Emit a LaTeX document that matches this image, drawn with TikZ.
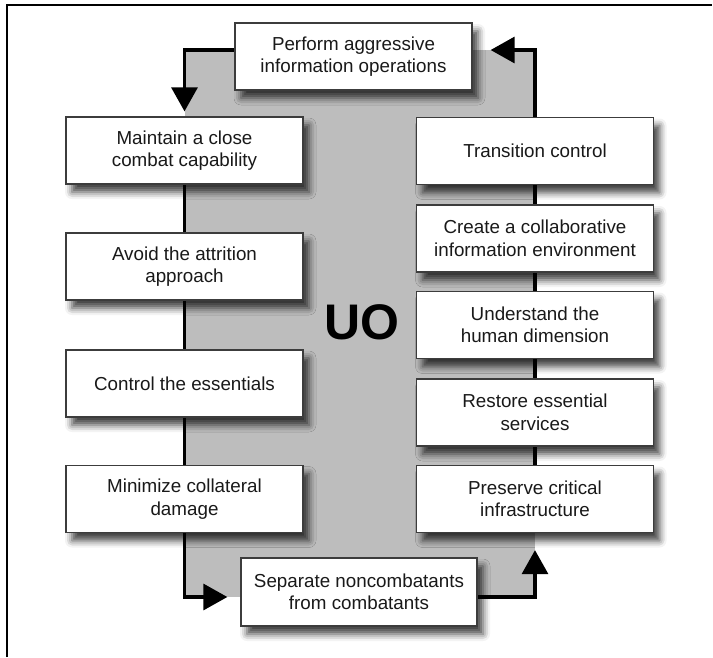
\documentclass[tikz,border=0pt]{standalone}
\usepackage{fontspec}
\setmainfont{Liberation Sans}
\usetikzlibrary{arrows.meta,shadows.blur}
\pgfdeclarelayer{back}
\pgfdeclarelayer{mid}
\pgfsetlayers{back,mid,main}
\definecolor{loopgray}{RGB}{189,189,189}
\definecolor{txt}{RGB}{25,25,25}
\definecolor{edge}{RGB}{60,60,60}
\begin{document}
\begin{tikzpicture}[x=1pt,y=-1pt,
  box/.style={draw=edge, line width=1.3pt, fill=white, minimum width=237pt,
    minimum height=67pt, align=center, inner sep=0pt, text=txt,
    font=\fontsize{18.8}{22.5}\selectfont,
    blur shadow={shadow xshift=6pt, shadow yshift=-8pt, shadow blur radius=7pt, shadow opacity=75}},
  loopline/.style={line width=3.2pt, black, line join=miter},
  looptip/.style={-{Triangle[length=24pt,width=26pt]}},
  frameline/.style={line width=2.5pt, black}
]
\useasboundingbox (0,0) rectangle (713,657);
% frame
\draw[frameline] (7,657) -- (7,5) -- (712,5);

% boxes
\node[box] (top) at (353.5,56.5) {Perform aggressive\\information operations};
\node[box] (maintain) at (184.5,150.5) {Maintain a close\\combat capability};
\node[box] (avoid) at (184.5,266.5) {Avoid the attrition\\approach};
\node[box] (control) at (184.5,383.5) {Control the essentials};
\node[box] (minimize) at (184.5,499) {Minimize collateral\\damage};
\node[box] (transition) at (535,151) {Transition control};
\node[box] (create) at (535,238.5) {Create a collaborative\\information environment};
\node[box] (understand) at (535,325) {Understand the\\human dimension};
\node[box] (restore) at (535,412.5) {Restore essential\\services};
\node[box] (preserve) at (535,499) {Preserve critical\\infrastructure};
\node[box, minimum width=236pt, minimum height=68pt] (sep) at (359,592) {Separate noncombatants\\from combatants};
\node[font=\fontsize{50}{50}\selectfont\bfseries, text=black] (uo) at (362,322) {UO};

\begin{pgfonlayer}{back}
  \fill[loopgray] (184.5,50) rectangle (535,597);
\end{pgfonlayer}
\begin{pgfonlayer}{mid}
  \draw[loopline,looptip,shorten >=5pt] ([yshift=6.5pt]top.west) -| (maintain.north);
  \draw[loopline] (maintain) -- (avoid);
  \draw[loopline] (avoid) -- (control);
  \draw[loopline] (control) -- (minimize);
  \draw[loopline,looptip,shorten >=13pt] (minimize.south) |- ([yshift=-5pt]sep.west);
  \draw[loopline,looptip,shorten >=17pt] ([yshift=-5pt]sep.east) -| (preserve.south);
  \draw[loopline] (preserve) -- (restore);
  \draw[loopline] (restore) -- (understand);
  \draw[loopline] (understand) -- (create);
  \draw[loopline] (create) -- (transition);
  \draw[loopline,looptip,shorten >=18pt] (transition.north) |- ([yshift=6.5pt]top.east);
\end{pgfonlayer}
\end{tikzpicture}
\end{document}
